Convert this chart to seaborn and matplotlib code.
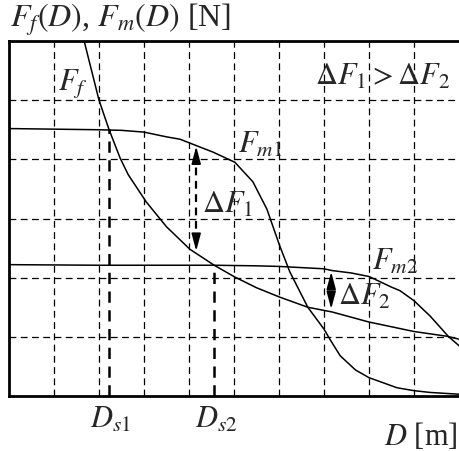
import numpy as np
import pandas as pd
import matplotlib
matplotlib.use("Agg")
import matplotlib.pyplot as plt
import seaborn as sns

# Curve samples: displacement D and force values
ff_d = [1.67, 2.0, 2.22, 2.47, 2.65, 3.05, 3.5, 4.02, 4.56, 5.02, 5.5, 6.02, 6.64, 7.18, 8.0, 9.0, 9.73, 10.0]
ff_f = [6.0, 5.0, 4.51, 4.02, 3.74, 3.28, 2.86, 2.48, 2.21, 2.01, 1.83, 1.67, 1.50, 1.42, 1.25, 1.09, 1.01, 0.96]

fm1_d = [0.0, 1.0, 2.0, 2.5, 3.0, 3.5, 3.8, 4.17, 4.54, 5.02, 5.42, 5.73, 6.02, 6.24, 6.64, 7.0, 7.13, 7.36, 7.7, 8.0, 8.62, 9.0, 9.36, 10.0]
fm1_f = [4.52, 4.51, 4.50, 4.49, 4.46, 4.38, 4.34, 4.23, 4.12, 3.95, 3.62, 3.16, 2.53, 2.10, 1.50, 1.13, 0.96, 0.68, 0.44, 0.31, 0.14, 0.09, 0.06, 0.03]

fm2_d = [0.0, 2.0, 4.56, 5.5, 6.0, 7.0, 7.18, 7.6, 8.0, 8.5, 8.69, 9.0, 9.36, 9.76, 10.0]
fm2_f = [2.22, 2.21, 2.21, 2.20, 2.19, 2.15, 2.12, 2.08, 2.02, 1.84, 1.78, 1.61, 1.35, 1.01, 0.85]

# Characteristic points
ds_d = [2.22, 4.56]
ds_f = [4.51, 2.21]
ds_labels = [r"$D_{s1}$", r"$D_{s2}$"]

# Force gaps (D, upper, lower)
gap_d = [4.16, 7.16]
gap_top = [4.22, 2.10]
gap_bot = [2.45, 1.47]

grid_x = [1, 2, 3, 4, 5, 6, 7, 8, 9]
grid_y = [1, 2, 3, 4, 5]

sns.set_style("white")
plt.rcParams["font.family"] = ["Liberation Serif", "DejaVu Serif"]
plt.rcParams["mathtext.fontset"] = "stix"

fig = plt.figure(figsize=(4.59, 4.52), dpi=100)
ax = fig.add_axes([9 / 459, 55 / 452, 450 / 459, 355 / 452])

frames = []
for name, d, f in [("Ff", ff_d, ff_f), ("Fm1", fm1_d, fm1_f), ("Fm2", fm2_d, fm2_f)]:
    frames.append(pd.DataFrame({"D": d, "F": f, "curve": name}))
df = pd.concat(frames, ignore_index=True)

sns.lineplot(data=df, x="D", y="F", units="curve", estimator=None, sort=False,
             color="black", lw=1.1, ax=ax, legend=False)

ax.set_xlim(0, 10)
ax.set_ylim(0, 6)
ax.set_xticks(grid_x)
ax.set_yticks(grid_y)
ax.set_xticklabels([])
ax.set_yticklabels([])
ax.tick_params(length=0)
ax.set_xlabel("")
ax.set_ylabel("")
ax.grid(True, color="black", lw=0.9, linestyle=(0, (5.5, 3.5)))
ax.set_axisbelow(True)

for side in ["left", "bottom", "top"]:
    ax.spines[side].set_visible(True)
    ax.spines[side].set_color("black")
    ax.spines[side].set_linewidth(2.0)
ax.spines["right"].set_visible(False)

# Switching points: dashed drop lines to the D axis
for d, f in zip(ds_d, ds_f):
    ax.plot([d, d], [0, f], color="black", lw=1.8, linestyle=(0, (4.5, 3)))

# Double-headed gap arrows
for d, top, bot in zip(gap_d, gap_top, gap_bot):
    ax.plot([d, d], [bot + 0.15, top - 0.15], color="black", lw=1.6, linestyle=(0, (3.5, 2.5)))
    for tip, tail in [(top, top - 0.2), (bot, bot + 0.2)]:
        ax.annotate("", xy=(d, tip), xytext=(d, tail),
                    arrowprops=dict(arrowstyle="-|>,head_length=0.75,head_width=0.2",
                                    color="black", lw=1.2, shrinkA=0, shrinkB=0,
                                    mutation_scale=14))

label_size = 22
ax.text(1.09, 5.19, r"$F_f$", fontsize=label_size, ha="left", va="baseline")
ax.text(5.09, 4.12, r"$F_{m1}$", fontsize=label_size, ha="left", va="baseline")
ax.text(8.07, 2.15, r"$F_{m2}$", fontsize=label_size, ha="left", va="baseline")
ax.text(4.29, 3.11, r"$\Delta F_1$", fontsize=label_size, ha="left", va="baseline")
ax.text(7.31, 1.55, r"$\Delta F_2$", fontsize=label_size, ha="left", va="baseline")
ax.text(6.8, 5.27, r"$\Delta F_1 > \Delta F_2$", fontsize=label_size, ha="left", va="baseline")

for lab, x0 in zip(ds_labels, [1.8, 4.13]):
    ax.text(x0, -0.52, lab, fontsize=label_size, ha="left", va="baseline", clip_on=False)

fig.text(458 / 459, 1 - 445 / 452, r"$D$ [m]", fontsize=label_size, ha="right", va="baseline")
fig.text(10 / 459, 1 - 27 / 452, r"$F_f(D)$, $F_m(D)$ [N]", fontsize=23, ha="left", va="baseline")

fig.savefig("out.png", dpi=100)
